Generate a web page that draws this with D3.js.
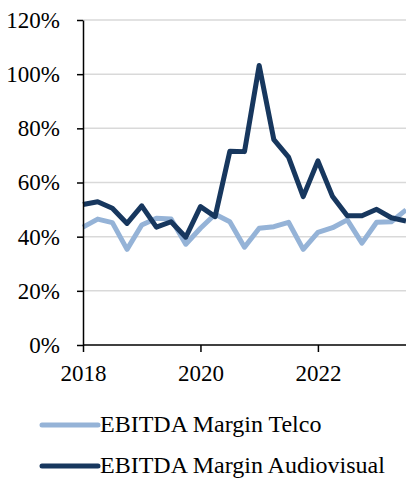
<!DOCTYPE html>
<html>
<head>
<meta charset="utf-8">
<script src="https://cdn.jsdelivr.net/npm/d3@7"></script>
<style>
  body { margin: 0; background: #fff; }
  svg { display: block; font-family: "Liberation Serif", "Times New Roman", serif; }
</style>
</head>
<body>
<div id="chart"></div>
<script>
// quarterly dates (decimal years)
var quarters = [2018, 2018.25, 2018.5, 2018.75, 2019, 2019.25, 2019.5, 2019.75,
                2020, 2020.25, 2020.5, 2020.75, 2021, 2021.25, 2021.5, 2021.75,
                2022, 2022.25, 2022.5, 2022.75, 2023, 2023.25, 2023.5];

var telco = [0.435, 0.465, 0.452, 0.353, 0.443, 0.468, 0.465, 0.372,
             0.431, 0.483, 0.455, 0.361, 0.431, 0.437, 0.453, 0.353,
             0.416, 0.433, 0.462, 0.376, 0.453, 0.455, 0.499];

var audiovisual = [0.519, 0.529, 0.505, 0.449, 0.514, 0.435, 0.455, 0.398,
                   0.511, 0.474, 0.715, 0.714, 1.032, 0.758, 0.694, 0.548,
                   0.680, 0.548, 0.477, 0.477, 0.501, 0.470, 0.458];

var yTicks = [0, 0.2, 0.4, 0.6, 0.8, 1.0, 1.2];
var xTicks = [2018, 2020, 2022];
var seriesNames = ["EBITDA Margin Telco", "EBITDA Margin Audiovisual"];
var seriesColors = ["#95b3d7", "#17375e"];

var width = 406, height = 478;
var margin = {top: 20, right: 0, bottom: 133, left: 83};

var x = d3.scaleLinear().domain([2018, 2023.5]).range([margin.left, width]);
var y = d3.scaleLinear().domain([0, 1.2]).range([height - margin.bottom, margin.top]);

var svg = d3.select("#chart").append("svg")
    .attr("width", width)
    .attr("height", height);

// gridlines
svg.append("g")
    .selectAll("line")
    .data(yTicks.filter(function(d) { return d > 0; }))
    .enter().append("line")
    .attr("x1", x(2018))
    .attr("x2", width)
    .attr("y1", function(d) { return y(d); })
    .attr("y2", function(d) { return y(d); })
    .attr("stroke", "#d9d9d9")
    .attr("stroke-width", 1.5);

// lines
var line = d3.line()
    .x(function(d, i) { return x(quarters[i]); })
    .y(function(d) { return y(d); });

[telco, audiovisual].forEach(function(s, k) {
  svg.append("path")
      .datum(s)
      .attr("d", line)
      .attr("fill", "none")
      .attr("stroke", seriesColors[k])
      .attr("stroke-width", 5)
      .attr("stroke-linejoin", "round");
});

// y axis
var yAxis = svg.append("g")
    .attr("transform", "translate(" + x(2018) + ",0)")
    .call(d3.axisLeft(y).tickValues(yTicks).tickFormat(d3.format(".0%")).tickSize(6).tickSizeOuter(0).tickPadding(17));

// x axis
var xAxis = svg.append("g")
    .attr("transform", "translate(0," + y(0) + ")")
    .call(d3.axisBottom(x).tickValues(xTicks).tickFormat(d3.format("d")).tickSize(7).tickSizeOuter(0).tickPadding(13));

xAxis.select(".domain").attr("d", "M" + x(2018) + ",0H" + width);

[yAxis, xAxis].forEach(function(a) {
  a.select(".domain").attr("stroke", "#000").attr("stroke-width", 1.5);
  a.selectAll(".tick line").attr("stroke", "#000").attr("stroke-width", 1.5);
  a.selectAll("text")
      .attr("fill", "#000")
      .style("font-family", "'Liberation Serif', 'Times New Roman', serif")
      .style("font-size", "23px");
});

// legend
var legend = svg.append("g");
seriesNames.forEach(function(name, k) {
  var ly = 425 + k * 41;
  legend.append("line")
      .attr("x1", 42).attr("x2", 98)
      .attr("y1", ly).attr("y2", ly)
      .attr("stroke", seriesColors[k])
      .attr("stroke-width", 5)
      .attr("stroke-linecap", "round");
  legend.append("text")
      .attr("x", 100)
      .attr("y", ly + 7)
      .attr("font-size", "24px")
      .attr("fill", "#000")
      .text(name);
});
</script>
</body>
</html>
